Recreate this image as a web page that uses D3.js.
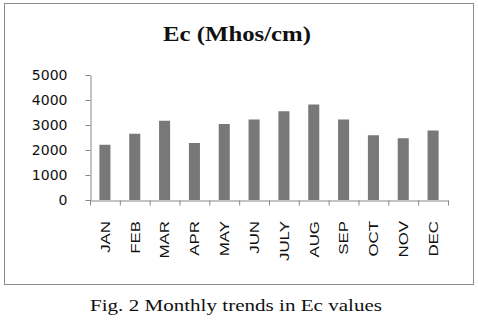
<!DOCTYPE html>
<html><head><meta charset="utf-8">
<script src="https://cdn.jsdelivr.net/npm/d3@7"></script>
<style>
html,body{margin:0;padding:0;background:#fff;}
svg{display:block;}
</style></head>
<body>
<svg id="chart" width="478" height="321"></svg>
<script>
const months = ["JAN","FEB","MAR","APR","MAY","JUN","JULY","AUG","SEP","OCT","NOV","DEC"];
const ecValues = [2210, 2650, 3170, 2280, 3040, 3220, 3550, 3820, 3220, 2590, 2470, 2780];
const yTicks = [0, 1000, 2000, 3000, 4000, 5000];
const titleText = "Ec (Mhos/cm)";
const captionText = "Fig. 2 Monthly trends in Ec values";

const svg = d3.select("#chart");
const axisColor = "#868686";

// outer frame
svg.append("rect").attr("x", 4.5).attr("y", 3.5).attr("width", 469).attr("height", 281)
  .attr("fill", "#fff").attr("stroke", "#8c8c8c").attr("stroke-width", 1);

const x = d3.scaleBand().domain(months).range([90, 448]).paddingInner(0.63).paddingOuter(0.315);
const y = d3.scaleLinear().domain([0, 5000]).range([200, 75]);
const xb = d3.scaleLinear().domain([0, months.length]).range([90, 448]);

// title
svg.append("text").attr("x", 237).attr("y", 41).attr("text-anchor", "middle")
  .attr("font-family", "Liberation Serif").attr("font-weight", "bold").attr("font-size", 20)
  .attr("textLength", 148).attr("lengthAdjust", "spacingAndGlyphs")
  .attr("fill", "#111").text(titleText);

// bars
svg.append("g").selectAll("rect").data(months).join("rect")
  .attr("x", d => x(d)).attr("width", x.bandwidth())
  .attr("y", (d, i) => y(ecValues[i])).attr("height", (d, i) => y(0) - y(ecValues[i]))
  .attr("fill", "#787878");

// y axis
const gy = svg.append("g").attr("transform", "translate(90.5,0)")
  .call(d3.axisLeft(y).tickValues(yTicks).tickSize(5).tickSizeOuter(0).tickPadding(18).tickFormat(d3.format("d")));
gy.select(".domain").attr("stroke", axisColor);
gy.selectAll(".tick line").attr("stroke", axisColor);
gy.selectAll(".tick text").attr("font-family", "DejaVu Sans").attr("font-size", 14).attr("fill", "#111");

// x axis (category boundary ticks)
const gx = svg.append("g").attr("transform", "translate(0,200.5)")
  .call(d3.axisBottom(xb).tickValues(d3.range(months.length + 1)).tickSize(5).tickSizeOuter(0).tickFormat(""));
gx.select(".domain").attr("stroke", axisColor);
gx.selectAll(".tick line").attr("stroke", axisColor);

// month labels
svg.append("g").selectAll("text").data(months).join("text")
  .attr("transform", d => `translate(${x(d) + x.bandwidth() / 2 + 4.8},221) rotate(-90) scale(1.25,1)`)
  .attr("text-anchor", "end")
  .attr("font-family", "Liberation Sans").attr("font-size", 13.5)
  .attr("fill", "#111").text(d => d);

// caption
svg.append("text").attr("x", 236).attr("y", 311).attr("text-anchor", "middle")
  .attr("font-family", "Liberation Serif").attr("font-size", 17)
  .attr("textLength", 292).attr("lengthAdjust", "spacingAndGlyphs")
  .attr("fill", "#111").text(captionText);
</script>
</body></html>
